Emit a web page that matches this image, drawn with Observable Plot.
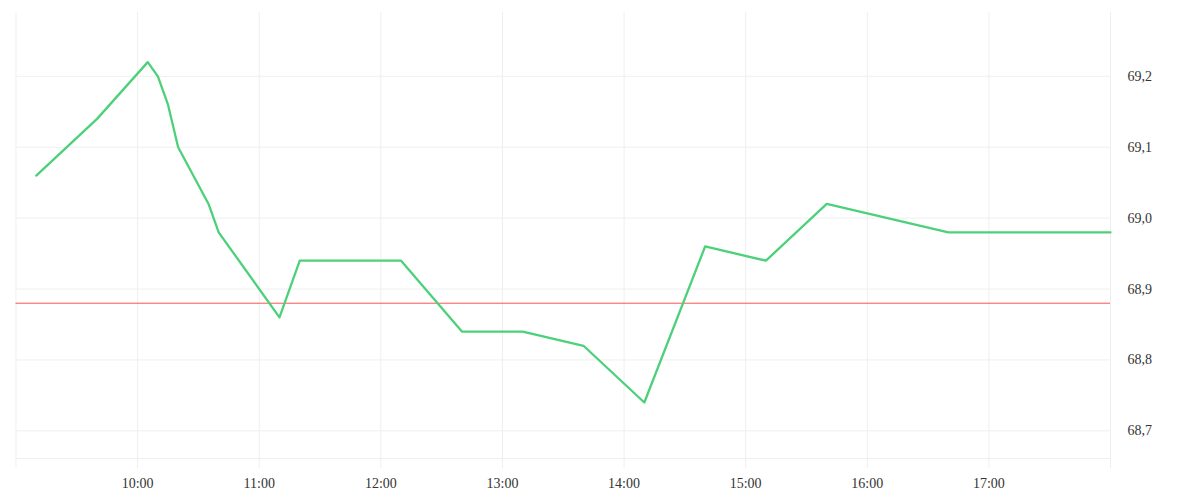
<!DOCTYPE html>
<html>
<head>
<meta charset="utf-8">
<script src="https://cdn.jsdelivr.net/npm/d3@7"></script>
<script src="https://cdn.jsdelivr.net/npm/@observablehq/plot@0.6"></script>
<style>
  html, body { margin: 0; padding: 0; background: #fff; }
  #chart { width: 1200px; height: 500px; }
</style>
</head>
<body>
<div id="chart"></div>
<script>
const DAY = "2024-01-15";
const times = ["09:10","09:40","10:05","10:10","10:15","10:20","10:35","10:40","11:10","11:20","12:10","12:40","13:10","13:40","14:10","14:40","15:10","15:40","16:40","18:00"];
const values = [69.06,69.14,69.22,69.20,69.16,69.10,69.02,68.98,68.86,68.94,68.94,68.84,68.84,68.82,68.74,68.96,68.94,69.02,68.98,68.98];
const refLevel = 68.88;
const xTickLabels = ["10:00","11:00","12:00","13:00","14:00","15:00","16:00","17:00"];
const xFrameTimes = ["09:00","18:00"];
const yTicks = [68.7, 68.8, 68.9, 69.0, 69.1, 69.2];
const yDomain = [68.661, 69.29];

const toDate = t => new Date(`${DAY}T${t}:00Z`);
const data = times.map((t, i) => ({time: toDate(t), value: values[i]}));
const xTicks = xTickLabels.map(toDate);
const xGridAll = [...xFrameTimes.map(toDate), ...xTicks];
const xDomain = xFrameTimes.map(toDate);

const chart = Plot.plot({
  width: 1200,
  height: 500,
  marginLeft: 15.5,
  marginRight: 90,
  marginTop: 12,
  marginBottom: 42,
  style: {fontFamily: "'Liberation Serif', serif", fontSize: "14px", color: "#333", background: "#fff"},
  x: {type: "utc", domain: xDomain},
  y: {domain: yDomain},
  marks: [
    Plot.ruleY(yTicks, {stroke: "#efefef", strokeWidth: 1}),
    Plot.ruleY([yDomain[0]], {stroke: "#efefef", strokeWidth: 1}),
    Plot.ruleX(xGridAll, {stroke: "#efefef", strokeWidth: 1, insetBottom: -10}),
    Plot.ruleY([refLevel], {stroke: "#ff5252", strokeWidth: 1}),
    Plot.lineY(data, {x: "time", y: "value", stroke: "#4cd17a", strokeWidth: 2.3, curve: "linear"}),
    Plot.axisX({ticks: xTicks, tickSize: 0, tickPadding: 20, tickFormat: d3.utcFormat("%H:%M"), label: null}),
    Plot.axisY({anchor: "right", ticks: yTicks, tickSize: 0, tickPadding: 17, tickFormat: d => d.toFixed(1).replace(".", ","), label: null})
  ]
});
document.getElementById("chart").appendChild(chart);
</script>
</body>
</html>
